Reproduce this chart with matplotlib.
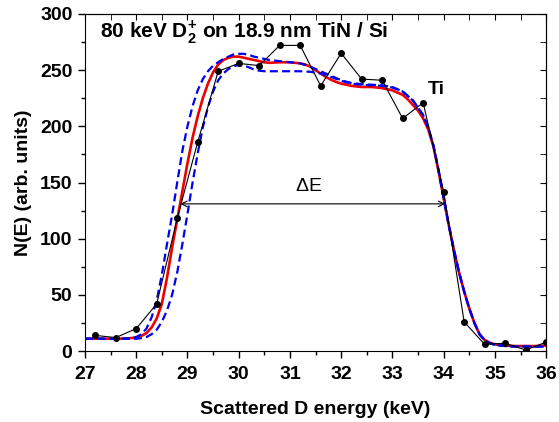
import matplotlib
matplotlib.use("Agg")
import matplotlib.pyplot as plt
from matplotlib.ticker import MultipleLocator

plt.rcParams['font.family'] = ['Liberation Sans', 'DejaVu Sans']
plt.rcParams['mathtext.fontset'] = 'custom'
plt.rcParams['mathtext.rm'] = 'Liberation Sans'
plt.rcParams['mathtext.bf'] = 'Liberation Sans:bold'

# measured spectrum (black dots)
e_meas = [27.2, 27.6, 28.0, 28.4, 28.8, 29.2, 29.6, 30.0, 30.4, 30.8, 31.2, 31.6,
          32.0, 32.4, 32.8, 33.2, 33.6, 34.0, 34.4, 34.8, 35.2, 35.6, 36.0]
n_meas = [14, 12, 20, 42, 118, 186, 249, 256, 254, 272, 272, 236,
          265, 242, 241, 207, 221, 142, 26, 6, 7, 1, 8]

# best-fit simulation (red)
e_fit = [27.0, 27.2, 27.4, 27.6, 27.8, 28.0, 28.1, 28.2, 28.3, 28.4, 28.5, 28.6, 28.7,
         28.8, 28.9, 29.0, 29.1, 29.2, 29.3, 29.4, 29.5, 29.6, 29.7, 29.8, 29.9, 30.0,
         30.1, 30.2, 30.3, 30.4, 30.5, 30.6, 30.8, 31.0, 31.2, 31.3, 31.4, 31.5, 31.6,
         31.7, 31.8, 31.9, 32.0, 32.2, 32.4, 32.6, 32.8, 33.0, 33.1, 33.2, 33.3, 33.4,
         33.5, 33.6, 33.7, 33.8, 33.9, 34.0, 34.1, 34.2, 34.3, 34.4, 34.5, 34.6, 34.7,
         34.8, 34.9, 35.0, 35.2, 35.4, 35.6, 35.8, 36.0]
n_fit = [11, 11, 11, 11, 11.2, 12, 13.5, 16, 21, 29, 42, 65, 92,
         117, 142, 167, 190, 209, 225, 238, 248, 255, 259, 261, 262, 262,
         261, 260, 259, 258, 257, 256.5, 257, 257, 256, 255, 253, 250, 247,
         244, 241.5, 239.5, 238, 236, 235, 235, 234, 232, 230, 228, 224, 219,
         214, 207, 197, 182, 160, 136, 112, 90, 70, 53, 38, 25, 15,
         10, 7.5, 6, 5, 4.5, 4.5, 4.5, 5]

# simulations for thinner / thicker layer (blue dashed)
e_sim = [27.0, 27.4, 27.8, 28.0, 28.1, 28.2, 28.3, 28.4, 28.5, 28.6, 28.7, 28.8, 28.9,
         29.0, 29.1, 29.2, 29.3, 29.4, 29.5, 29.6, 29.7, 29.8, 29.9, 30.0, 30.1, 30.2,
         30.3, 30.4, 30.5, 30.6, 30.8, 31.0, 31.2, 31.4, 31.6, 31.8, 32.0, 32.2, 32.4,
         32.6, 32.8, 33.0, 33.2, 33.4, 33.6, 33.7, 33.8, 33.9, 34.0, 34.1, 34.2, 34.3,
         34.4, 34.5, 34.6, 34.7, 34.8, 34.9, 35.0, 35.2, 35.4, 35.6, 35.8, 36.0]
n_sim_a = [11, 11, 11, 12.5, 15, 20, 30, 45, 68, 95, 121, 150, 178,
           200, 218, 232, 242, 249, 254, 257, 260, 262, 264, 264.5, 264.5, 263.5,
           262, 261, 260, 259, 258, 257, 256, 253, 249, 245, 241, 238.5, 237.5,
           237, 236.5, 235, 231, 223, 210, 199, 183, 161, 136, 112, 90, 70,
           53, 38, 25, 15, 9.5, 7, 5.5, 4.5, 4, 4, 4, 4]
n_sim_b = [11, 11, 11, 11, 11.5, 12.5, 15, 19, 26, 36, 50, 70, 95,
           122, 150, 176, 199, 217, 231, 241, 247, 251, 253.5, 254.5, 254, 252.5,
           250.5, 249.5, 249, 249, 249, 249, 249, 248.5, 247, 244, 240.5, 238, 237,
           236.5, 236, 234.5, 231, 223, 210, 199, 183, 161, 136, 112, 90, 70,
           53, 38, 25, 15, 9.5, 7, 5.5, 4.5, 4, 4, 4, 4]

fig = plt.figure(figsize=(5.59, 4.22), dpi=100)
ax = fig.add_axes([0.152, 0.168, 0.825, 0.799])

ax.plot(e_fit, n_fit, color='#ee0000', lw=1.9, zorder=3)
ax.plot(e_sim, n_sim_a, color='#0000ee', lw=1.6, ls=(0, (3.6, 1.9)), zorder=4)
ax.plot(e_sim, n_sim_b, color='#0000ee', lw=1.6, ls=(0, (3.6, 1.9)), zorder=4)
ax.plot(e_meas, n_meas, color='black', lw=0.8, marker='o', ms=4, zorder=5)

ax.annotate('', xy=(28.86, 131), xytext=(34.03, 131),
            arrowprops=dict(arrowstyle='<->', color='black', lw=0.8,
                            shrinkA=0, shrinkB=0))
ax.text(31.36, 139, r'$\Delta$E', ha='center', va='bottom', fontsize=14)
ax.text(33.85, 233, 'Ti', ha='center', va='center', fontsize=14, fontweight='bold')
ax.text(27.3, 284, r'80 keV D$_\mathbf{2}^\mathbf{+}$ on 18.9 nm TiN / Si',
        ha='left', va='center', fontsize=15, fontweight='bold')

ax.set_xlim(27, 36)
ax.set_ylim(0, 300)
ax.xaxis.set_major_locator(MultipleLocator(1))
ax.xaxis.set_minor_locator(MultipleLocator(0.5))
ax.yaxis.set_major_locator(MultipleLocator(50))
ax.yaxis.set_minor_locator(MultipleLocator(25))
ax.tick_params(which='both', direction='out', top=False, right=False, width=1)
ax.tick_params(which='major', length=5, labelsize=14)
ax.tick_params(axis='x', which='major', pad=6)
ax.tick_params(axis='y', which='major', pad=4)
ax.tick_params(which='minor', length=3)
for lab in ax.get_xticklabels() + ax.get_yticklabels():
    lab.set_fontweight('bold')

# inward ticks on top and right
axt = ax.secondary_xaxis('top')
axt.xaxis.set_major_locator(MultipleLocator(1))
axt.xaxis.set_minor_locator(MultipleLocator(0.5))
axt.tick_params(which='both', direction='in', labeltop=False, length=4)
axr = ax.secondary_yaxis('right')
axr.yaxis.set_major_locator(MultipleLocator(50))
axr.yaxis.set_minor_locator(MultipleLocator(25))
axr.tick_params(which='both', direction='in', labelright=False, length=4)

ax.set_xlabel('Scattered D energy (keV)', fontsize=14, fontweight='bold', labelpad=13)
ax.set_ylabel('N(E) (arb. units)', fontsize=14, fontweight='bold', labelpad=6)

fig.savefig('out.png', dpi=100)
